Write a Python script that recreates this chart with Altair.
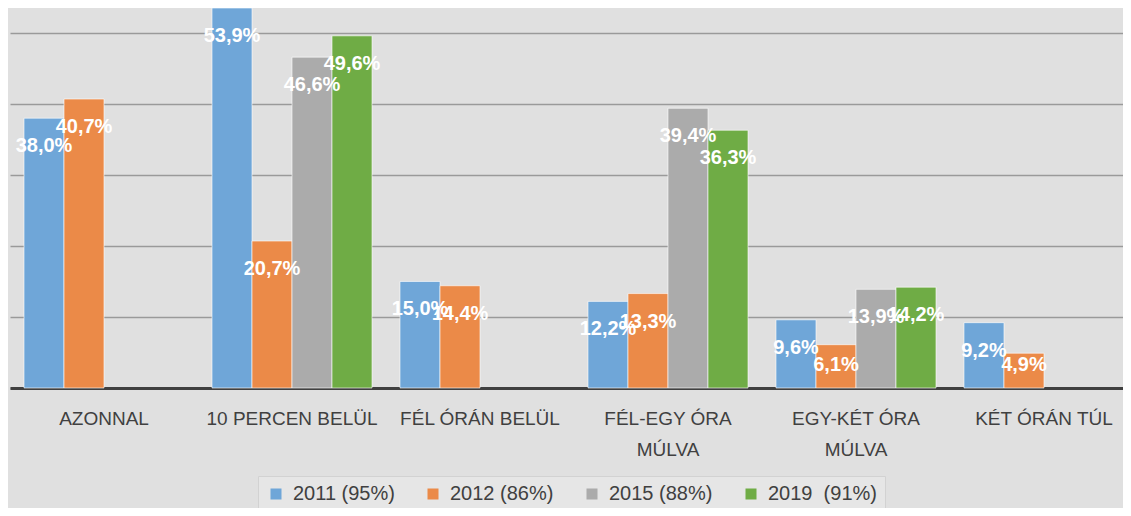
import altair as alt
import pandas as pd

categories = ["AZONNAL", "10 PERCEN BELÜL", "FÉL ÓRÁN BELÜL",
              "FÉL-EGY ÓRA\nMÚLVA", "EGY-KÉT ÓRA\nMÚLVA", "KÉT ÓRÁN TÚL"]
series = ["2011 (95%)", "2012 (86%)", "2015 (88%)", "2019\u00a0 (91%)"]
v2011 = [38.0, 53.9, 15.0, 12.2, 9.6, 9.2]
v2012 = [40.7, 20.7, 14.4, 13.3, 6.1, 4.9]
v2015 = [None, 46.6, None, 39.4, 13.9, None]
v2019 = [None, 49.6, None, 36.3, 14.2, None]
colors = ["#6fa6d8", "#eb8a48", "#ababab", "#6fac45"]

rows = []
for s, vals in zip(series, [v2011, v2012, v2015, v2019]):
    for c, v in zip(categories, vals):
        if v is not None:
            rows.append({"cat": c, "series": s, "value": v,
                         "label": f"{v:.1f}%".replace(".", ",")})
df = pd.DataFrame(rows)

x_enc = alt.X("cat:N", sort=categories,
              scale=alt.Scale(domain=categories, range=[0, 1128],
                              paddingInner=0.1489, paddingOuter=0.0745),
              axis=alt.Axis(title=None, labelExpr="split(datum.label, '\\n')",
                            labelAngle=0, ticks=False, grid=False,
                            labelFont="Liberation Sans", labelFontSize=19,
                            labelColor="#404040", labelPadding=21,
                            labelLineHeight=31, labelLimit=0,
                            domainColor="#404040", domainWidth=3))
xo_enc = alt.XOffset("series:N", scale=alt.Scale(domain=series, paddingInner=0, paddingOuter=0))
y_scale = alt.Scale(domain=[0, 53.52], nice=False, zero=True, clamp=True)

bars = alt.Chart(df).mark_bar(stroke="white", strokeOpacity=0.6, strokeWidth=1).encode(
    x=x_enc,
    xOffset=xo_enc,
    y=alt.Y("value:Q", scale=y_scale,
            axis=alt.Axis(title=None, labels=False, ticks=False, domain=False,
                          grid=True, values=[0, 10, 20, 30, 40, 50],
                          gridColor="#9a9a9a", gridWidth=1.5)),
    color=alt.Color("series:N", scale=alt.Scale(domain=series, range=colors),
                    legend=alt.Legend(title=None, orient="none", legendX=248, legendY=468,
                                      direction="horizontal", columns=4)),
)

labels = alt.Chart(df).transform_calculate(
    ly="max(datum.value, 7.2)"
).mark_text(color="white", fontWeight="bold", fontSize=20, font="Liberation Sans",
            dy=28, baseline="middle", align="center").encode(
    x=x_enc,
    xOffset=xo_enc,
    y=alt.Y("ly:Q", scale=y_scale),
    text="label:N",
)

chart = alt.layer(bars, labels).properties(
    width=1113, height=380,
    padding={"left": 2, "top": 0, "right": 0, "bottom": 120},
    autosize=alt.AutoSizeParams(type="none"),
).configure(background="#e0e0e0").configure_view(stroke=None).configure_legend(
    fillColor="#e6e6e6", strokeColor="#d2d2d2", padding=8,
    labelFont="Liberation Sans", labelFontSize=20, labelColor="#404040",
    symbolType="square", symbolSize=121, symbolStrokeWidth=0,
    labelOffset=7, columnPadding=28,
)

chart.save("out.html", embed_options={"renderer": "svg", "actions": False})
